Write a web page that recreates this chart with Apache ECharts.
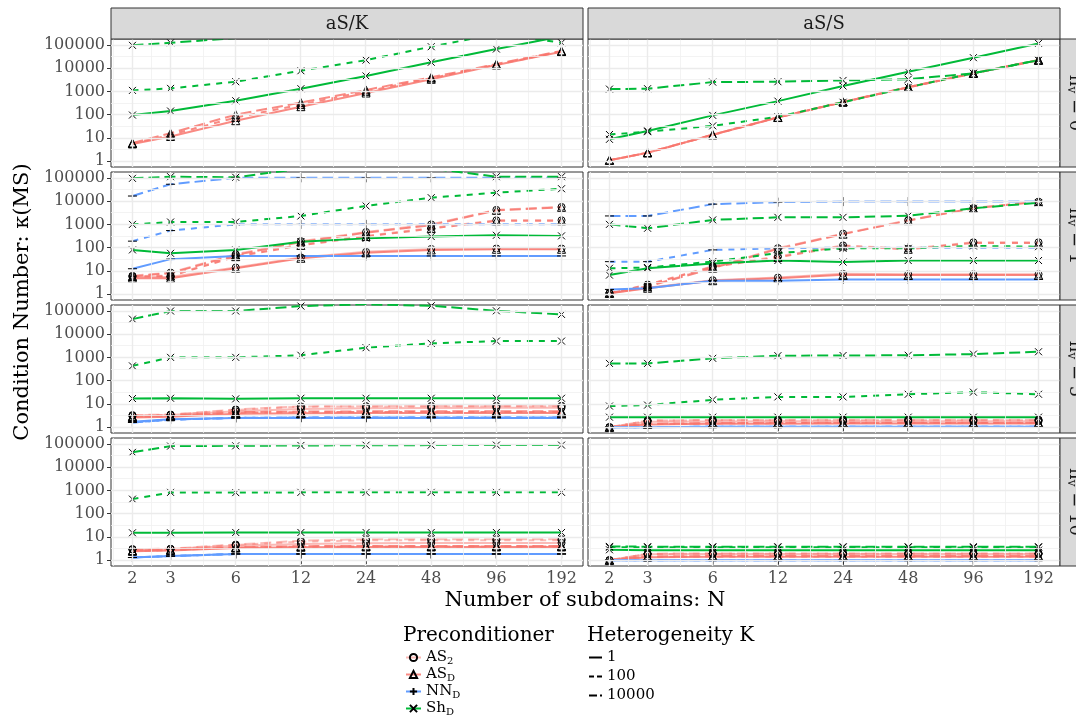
<!DOCTYPE html>
<html><head><meta charset="utf-8">
<script src="https://cdn.jsdelivr.net/npm/echarts@6/dist/echarts.min.js"></script>
<style>html,body{margin:0;padding:0;background:#fff}#c{width:1076px;height:715px}</style>
</head><body><div id="c"></div>
<script>
// ---------------- data ----------------
const N = [2, 3, 6, 12, 24, 48, 96, 192];
const colTitles = ['aS/K', 'aS/S'];
const rowValues = ['0', '1', '5', '10'];
const yTicks = [1, 10, 100, 1000, 10000, 100000];
const preconds = ['AS2', 'ASD', 'NND', 'ShD'];
const hetero = ['1', '100', '10000'];

// panel 1: aS/K, nv = 0
const p1_ShD_K1 = [96, 143, 395, 1300, 4600, 17800, 66000, 230000];
const p1_ShD_K100 = [1100, 1340, 2600, 7700, 22000, 83000, 295000, 123000];
const p1_ShD_K10000 = [95000, 123000, 195000, 400000, 700000, 1200000, 2000000, 3000000];
const p1_ASD_K1 = [5.5, 11.5, 55, 220, 850, 3300, 13500, 50000];
const p1_ASD_K100 = [5.8, 13.5, 75, 270, 1000, 3700, 14200, 52000];
const p1_ASD_K10000 = [6.0, 16, 100, 330, 1150, 4000, 15000, 55000];
// panel 2: aS/S, nv = 0
const p2_ShD_K1 = [8.7, 20, 93, 380, 1700, 7000, 28000, 115000];
const p2_ShD_K100 = [14, 18.5, 33, 81, 340, 1500, 6000, 22000];
const p2_ShD_K10000 = [1250, 1300, 2500, 2600, 2950, 3300, 6000, 22000];
const p2_ASD_K1 = [1.1, 2.3, 13.7, 76, 350, 1500, 6000, 22000];
const p2_ASD_K100 = [1.1, 2.3, 13.5, 75, 345, 1480, 5900, 21500];
const p2_ASD_K10000 = [1.1, 2.3, 13.9, 77, 355, 1520, 6100, 22500];
// panel 3: aS/K, nv = 1
const p3_AS2_K1 = [5.5, 5.5, 14, 38, 66, 88, 92, 92];
const p3_AS2_K100 = [6.0, 6.3, 44, 135, 320, 700, 1500, 1500];
const p3_AS2_K10000 = [6.2, 8.5, 52, 190, 470, 1000, 4200, 5600];
const p3_ASD_K1 = [4.8, 4.8, 13, 35, 60, 80, 85, 85];
const p3_ASD_K100 = [5.6, 6.0, 41, 125, 300, 660, 1420, 1420];
const p3_ASD_K10000 = [5.8, 8.0, 48, 175, 440, 930, 4000, 5400];
const p3_NND_K1 = [12.4, 32, 44, 44, 44, 44, 44, 44];
const p3_NND_K100 = [190, 540, 1000, 1000, 1000, 1000, 1000, 1000];
const p3_NND_K10000 = [16500, 53000, 100000, 100000, 100000, 100000, 100000, 100000];
const p3_ShD_K1 = [80, 57, 80, 180, 250, 300, 340, 320];
const p3_ShD_K100 = [1000, 1260, 1260, 2300, 6200, 14000, 23000, 34000];
const p3_ShD_K10000 = [95000, 112000, 105000, 250000, 300000, 250000, 112000, 112000];
// panel 4: aS/S, nv = 1
const p4_AS2_K1 = [1.1, 1.9, 4.0, 5.2, 7.5, 7.2, 7.2, 7.2];
const p4_AS2_K100 = [1.1, 2.6, 16, 42, 125, 90, 170, 170];
const p4_AS2_K10000 = [1.1, 2.2, 14, 95, 400, 1500, 5000, 9500];
const p4_ASD_K1 = [1.1, 1.8, 3.8, 4.8, 6.8, 6.6, 6.6, 6.6];
const p4_ASD_K100 = [1.1, 2.5, 15, 38, 118, 85, 160, 160];
const p4_ASD_K10000 = [1.1, 2.1, 13, 88, 380, 1450, 4900, 9500];
const p4_NND_K1 = [1.6, 1.8, 3.8, 3.8, 4.3, 4.3, 4.3, 4.3];
const p4_NND_K100 = [25, 25, 80, 93, 100, 100, 100, 100];
const p4_NND_K10000 = [2300, 2300, 7400, 9000, 9500, 9500, 9500, 9500];
const p4_ShD_K1 = [6.6, 13, 21, 28, 24, 28, 28, 28];
const p4_ShD_K100 = [13, 14, 25, 58, 93, 93, 118, 110];
const p4_ShD_K10000 = [1000, 680, 1550, 2000, 2000, 2350, 4900, 8500];
// panel 5: aS/K, nv = 5
const p5_AS2_K1 = [3.0, 3.3, 4.8, 6.0, 6.5, 6.7, 6.8, 6.8];
const p5_AS2_K100 = [3.2, 3.4, 5.5, 7.6, 7.8, 7.8, 8.0, 8.0];
const p5_AS2_K10000 = [3.3, 3.5, 5.8, 7.8, 8.0, 8.2, 8.2, 8.3];
const p5_ASD_K1 = [2.6, 2.8, 3.8, 4.0, 4.1, 4.1, 4.1, 4.1];
const p5_ASD_K100 = [2.8, 3.0, 4.2, 4.4, 4.5, 4.5, 4.5, 4.5];
const p5_ASD_K10000 = [2.9, 3.1, 4.4, 4.7, 4.8, 4.8, 4.8, 4.8];
const p5_NND_K1 = [1.7, 2.2, 2.5, 2.5, 2.5, 2.5, 2.5, 2.5];
const p5_NND_K100 = [1.6, 2.1, 2.5, 2.6, 2.6, 2.6, 2.6, 2.6];
const p5_NND_K10000 = [1.6, 2.1, 2.5, 2.6, 2.6, 2.6, 2.6, 2.6];
const p5_ShD_K1 = [17, 17.5, 16.5, 17.5, 17.5, 17.5, 17.5, 17.5];
const p5_ShD_K100 = [430, 1000, 1000, 1230, 2600, 4000, 5000, 5000];
const p5_ShD_K10000 = [44000, 98000, 98000, 160000, 190000, 165000, 100000, 70000];
// panel 6: aS/S, nv = 5
const p6_AS2_K1 = [1.0, 1.7, 1.75, 1.8, 1.8, 1.8, 1.8, 1.8];
const p6_AS2_K100 = [1.0, 1.9, 2.0, 2.0, 2.0, 2.0, 2.0, 2.0];
const p6_AS2_K10000 = [1.0, 1.9, 2.05, 2.05, 2.1, 2.1, 2.1, 2.1];
const p6_ASD_K1 = [1.0, 1.3, 1.4, 1.4, 1.45, 1.45, 1.45, 1.45];
const p6_ASD_K100 = [1.0, 1.35, 1.45, 1.5, 1.5, 1.5, 1.5, 1.5];
const p6_ASD_K10000 = [1.0, 1.4, 1.5, 1.55, 1.55, 1.55, 1.55, 1.55];
const p6_NND_K1 = [1.0, 1.0, 1.05, 1.05, 1.05, 1.05, 1.05, 1.05];
const p6_NND_K100 = [1.0, 1.0, 1.05, 1.05, 1.05, 1.05, 1.05, 1.05];
const p6_NND_K10000 = [1.0, 1.0, 1.05, 1.05, 1.05, 1.05, 1.05, 1.05];
const p6_ShD_K1 = [2.7, 2.7, 2.7, 2.7, 2.7, 2.7, 2.7, 2.7];
const p6_ShD_K100 = [8.1, 8.9, 15, 20, 20, 26, 32, 26];
const p6_ShD_K10000 = [550, 550, 910, 1180, 1200, 1230, 1380, 1740];
// panel 7: aS/K, nv = 10
const p7_AS2_K1 = [2.9, 3.0, 4.2, 5.0, 5.3, 5.5, 5.5, 5.5];
const p7_AS2_K100 = [2.9, 3.0, 4.5, 6.2, 7.2, 7.2, 7.2, 7.2];
const p7_AS2_K10000 = [3.0, 3.1, 4.7, 6.8, 8.0, 8.0, 8.0, 8.0];
const p7_ASD_K1 = [2.4, 2.6, 3.3, 3.6, 3.7, 3.7, 3.7, 3.7];
const p7_ASD_K100 = [2.5, 2.7, 3.5, 3.8, 3.9, 3.9, 3.9, 3.9];
const p7_ASD_K10000 = [2.6, 2.8, 3.6, 4.0, 4.1, 4.1, 4.1, 4.1];
const p7_NND_K1 = [1.3, 1.5, 1.85, 1.85, 1.85, 1.85, 1.85, 1.85];
const p7_NND_K100 = [1.3, 1.5, 1.85, 1.85, 1.85, 1.85, 1.85, 1.85];
const p7_NND_K10000 = [1.3, 1.5, 1.85, 1.85, 1.85, 1.85, 1.85, 1.85];
const p7_ShD_K1 = [15, 15, 15.5, 15.5, 15.5, 15.5, 15.5, 15.5];
const p7_ShD_K100 = [420, 820, 800, 820, 820, 820, 820, 820];
const p7_ShD_K10000 = [43000, 80000, 82000, 85000, 87000, 88000, 88000, 88000];
// panel 8: aS/S, nv = 10
const p8_AS2_K1 = [1.0, 1.8, 1.85, 1.85, 1.85, 1.85, 1.85, 1.85];
const p8_AS2_K100 = [1.0, 1.85, 1.9, 1.9, 1.9, 1.9, 1.9, 1.9];
const p8_AS2_K10000 = [1.0, 1.9, 1.95, 1.95, 1.95, 1.95, 1.95, 1.95];
const p8_ASD_K1 = [1.0, 1.35, 1.4, 1.4, 1.4, 1.4, 1.4, 1.4];
const p8_ASD_K100 = [1.0, 1.4, 1.45, 1.45, 1.45, 1.45, 1.45, 1.45];
const p8_ASD_K10000 = [1.0, 1.45, 1.5, 1.5, 1.5, 1.5, 1.5, 1.5];
const p8_NND_K1 = [1.0, 1.0, 1.0, 1.0, 1.0, 1.0, 1.0, 1.0];
const p8_NND_K100 = [1.0, 1.0, 1.0, 1.0, 1.0, 1.0, 1.0, 1.0];
const p8_NND_K10000 = [1.0, 1.0, 1.0, 1.0, 1.0, 1.0, 1.0, 1.0];
const p8_ShD_K1 = [2.8, 2.7, 2.7, 2.7, 2.7, 2.7, 2.7, 2.7];
const p8_ShD_K100 = [3.6, 3.6, 3.6, 3.6, 3.6, 3.6, 3.5, 3.6];
const p8_ShD_K10000 = [3.9, 3.8, 3.8, 3.8, 3.8, 3.8, 3.8, 3.8];

const panels = [
  {row: 0, col: 0, lines: [['ASD','1',p1_ASD_K1],['ASD','100',p1_ASD_K100],['ASD','10000',p1_ASD_K10000],
    ['ShD','1',p1_ShD_K1],['ShD','100',p1_ShD_K100],['ShD','10000',p1_ShD_K10000]]},
  {row: 0, col: 1, lines: [['ASD','1',p2_ASD_K1],['ASD','100',p2_ASD_K100],['ASD','10000',p2_ASD_K10000],
    ['ShD','1',p2_ShD_K1],['ShD','100',p2_ShD_K100],['ShD','10000',p2_ShD_K10000]]},
  {row: 1, col: 0, lines: [['AS2','1',p3_AS2_K1],['AS2','100',p3_AS2_K100],['AS2','10000',p3_AS2_K10000],
    ['ASD','1',p3_ASD_K1],['ASD','100',p3_ASD_K100],['ASD','10000',p3_ASD_K10000],
    ['NND','1',p3_NND_K1],['NND','100',p3_NND_K100],['NND','10000',p3_NND_K10000],
    ['ShD','1',p3_ShD_K1],['ShD','100',p3_ShD_K100],['ShD','10000',p3_ShD_K10000]]},
  {row: 1, col: 1, lines: [['AS2','1',p4_AS2_K1],['AS2','100',p4_AS2_K100],['AS2','10000',p4_AS2_K10000],
    ['ASD','1',p4_ASD_K1],['ASD','100',p4_ASD_K100],['ASD','10000',p4_ASD_K10000],
    ['NND','1',p4_NND_K1],['NND','100',p4_NND_K100],['NND','10000',p4_NND_K10000],
    ['ShD','1',p4_ShD_K1],['ShD','100',p4_ShD_K100],['ShD','10000',p4_ShD_K10000]]},
  {row: 2, col: 0, lines: [['AS2','1',p5_AS2_K1],['AS2','100',p5_AS2_K100],['AS2','10000',p5_AS2_K10000],
    ['ASD','1',p5_ASD_K1],['ASD','100',p5_ASD_K100],['ASD','10000',p5_ASD_K10000],
    ['NND','1',p5_NND_K1],['NND','100',p5_NND_K100],['NND','10000',p5_NND_K10000],
    ['ShD','1',p5_ShD_K1],['ShD','100',p5_ShD_K100],['ShD','10000',p5_ShD_K10000]]},
  {row: 2, col: 1, lines: [['AS2','1',p6_AS2_K1],['AS2','100',p6_AS2_K100],['AS2','10000',p6_AS2_K10000],
    ['ASD','1',p6_ASD_K1],['ASD','100',p6_ASD_K100],['ASD','10000',p6_ASD_K10000],
    ['NND','1',p6_NND_K1],['NND','100',p6_NND_K100],['NND','10000',p6_NND_K10000],
    ['ShD','1',p6_ShD_K1],['ShD','100',p6_ShD_K100],['ShD','10000',p6_ShD_K10000]]},
  {row: 3, col: 0, lines: [['AS2','1',p7_AS2_K1],['AS2','100',p7_AS2_K100],['AS2','10000',p7_AS2_K10000],
    ['ASD','1',p7_ASD_K1],['ASD','100',p7_ASD_K100],['ASD','10000',p7_ASD_K10000],
    ['NND','1',p7_NND_K1],['NND','100',p7_NND_K100],['NND','10000',p7_NND_K10000],
    ['ShD','1',p7_ShD_K1],['ShD','100',p7_ShD_K100],['ShD','10000',p7_ShD_K10000]]},
  {row: 3, col: 1, lines: [['AS2','1',p8_AS2_K1],['AS2','100',p8_AS2_K100],['AS2','10000',p8_AS2_K10000],
    ['ASD','1',p8_ASD_K1],['ASD','100',p8_ASD_K100],['ASD','10000',p8_ASD_K10000],
    ['NND','1',p8_NND_K1],['NND','100',p8_NND_K100],['NND','10000',p8_NND_K10000],
    ['ShD','1',p8_ShD_K1],['ShD','100',p8_ShD_K100],['ShD','10000',p8_ShD_K10000]]}
];

// ---------------- styling / layout ----------------
const FONT = 'DejaVu Serif';
const STYLE = {
  AS2: {color: 'rgba(248,118,109,0.5)', symbol: 'circle', size: 7},
  ASD: {color: 'rgba(248,118,109,0.85)', symbol: 'triangle', size: 8},
  NND: {color: '#619CFF', symbol: 'path://M5,0L5,10M0,5L10,5', size: 9},
  ShD: {color: '#00BA38', symbol: 'path://M0,0L10,10M10,0L0,10', size: 7}
};
const DASH = {'1': 'solid', '100': [6, 6], '10000': [11, 5]};
const KEY_ICON = {'1': 'path://M0,0H13V2H0Z', '100': 'path://M0,0H5V2H0ZM8,0H13V2H8Z', '10000': 'path://M0,0H8V2H0ZM11,0H13V2H11Z'};
const LABEL = {AS2: '{m|AS}{s|2}', ASD: '{m|AS}{s|D}', NND: '{m|NN}{s|D}', ShD: '{m|Sh}{s|D}'};
const colLeft = [111, 588], panelW = 472;
const rowTop = [39, 172, 305, 438], panelH = 128;

const xVals = N.map(v => Math.log2(v));
const xLo = xVals[0], xHi = xVals[xVals.length - 1];
const xPad = 0.05 * (xHi - xLo);
const yVals = yTicks.map(v => Math.log10(v));
const yLo = yVals[0], yHi = yVals[yVals.length - 1];
const yPad = 0.05 * (yHi - yLo);

// grid lines (major + minor) via markLine
const gridLineData = [];
const major = {color: '#EBEBEB', width: 1.4, type: 'solid'};
const minor = {color: '#F0F0F0', width: 0.8, type: 'solid'};
const xExt = [2 * xVals[0] - xVals[1]].concat(xVals);
for (let i = 1; i < xExt.length; i++) {
  const m = (xExt[i - 1] + xExt[i]) / 2;
  if (m > xLo - xPad) gridLineData.push({xAxis: m, lineStyle: minor});
}
for (let i = 1; i < yVals.length; i++) gridLineData.push({yAxis: (yVals[i - 1] + yVals[i]) / 2, lineStyle: minor});
xVals.forEach(v => gridLineData.push({xAxis: v, lineStyle: major}));
yVals.forEach(v => gridLineData.push({yAxis: v, lineStyle: major}));

const grids = [], xAxes = [], yAxes = [], series = [];
panels.forEach((p, g) => {
  grids.push({left: colLeft[p.col], top: rowTop[p.row], width: panelW, height: panelH,
    show: true, backgroundColor: '#fff', borderColor: '#333', borderWidth: 1, containLabel: false, outerBoundsMode: 'none'});
  const bottom = p.row === 3, left = p.col === 0;
  xAxes.push({type: 'value', gridIndex: g, min: xLo - xPad, max: xHi + xPad,
    axisLine: {show: false}, splitLine: {show: false},
    axisTick: {show: bottom, customValues: xVals, length: 4, lineStyle: {color: '#333'}},
    axisLabel: {show: bottom, customValues: xVals, margin: 5, color: '#4D4D4D', fontSize: 16, fontFamily: FONT,
      formatter: v => String(Math.round(Math.pow(2, v)))}});
  yAxes.push({type: 'value', gridIndex: g, min: yLo - yPad, max: yHi + yPad,
    axisLine: {show: false}, splitLine: {show: false},
    axisTick: {show: left, customValues: yVals, length: 4, lineStyle: {color: '#333'}},
    axisLabel: {show: left, customValues: yVals, margin: 6, color: '#4D4D4D', fontSize: 16, fontFamily: FONT,
      formatter: v => String(Math.round(Math.pow(10, v)))}});
  series.push({type: 'line', name: '_grid' + g, xAxisIndex: g, yAxisIndex: g, data: [], silent: true, z: 1,
    markLine: {silent: true, symbol: ['none', 'none'], label: {show: false}, animation: false,
      emphasis: {disabled: true}, data: gridLineData}});
  p.lines.forEach(([pre, K, arr]) => {
    const st = STYLE[pre];
    series.push({type: 'line', name: pre, xAxisIndex: g, yAxisIndex: g, z: 3, clip: true,
      data: arr.map((v, i) => [xVals[i], Math.log10(v)]),
      symbol: st.symbol, symbolSize: st.size, showSymbol: true, showAllSymbol: true,
      lineStyle: {color: st.color, width: 2, type: DASH[K]},
      itemStyle: {color: 'rgba(0,0,0,0)', borderColor: '#000', borderWidth: 1},
      emphasis: {disabled: true}, animation: false});
  });
});
// key-only series for the heterogeneity legend
hetero.forEach(K => series.push({type: 'line', name: K, xAxisIndex: 0, yAxisIndex: 0, data: [], symbol: 'none',
  lineStyle: {color: '#000', width: 2, type: DASH[K]}, itemStyle: {color: '#000'}}));

const graphic = [];
colTitles.forEach((t, c) => {
  graphic.push({type: 'rect', shape: {x: colLeft[c], y: 8, width: panelW, height: 31},
    style: {fill: '#D9D9D9', stroke: '#333', lineWidth: 1}, z: 10});
  graphic.push({type: 'text', x: colLeft[c] + panelW / 2, y: 24, z: 11,
    style: {text: t, fill: '#1A1A1A', font: '18px "DejaVu Serif"', align: 'center', verticalAlign: 'middle'}});
});
rowValues.forEach((v, r) => {
  graphic.push({type: 'rect', shape: {x: colLeft[1] + panelW, y: rowTop[r], width: 30, height: panelH},
    style: {fill: '#D9D9D9', stroke: '#333', lineWidth: 1}, z: 10});
  graphic.push({type: 'text', x: 1075, y: rowTop[r] + panelH / 2, rotation: -Math.PI / 2, z: 11,
    style: {text: '{m|n}{s|v}{m| = ' + v + '}', fill: '#1A1A1A', align: 'center', verticalAlign: 'middle',
      rich: {m: {fontSize: 18, fontFamily: FONT, fill: '#1A1A1A'}, s: {fontSize: 12, fontFamily: FONT, fill: '#1A1A1A', padding: [8, 0, 0, 0]}}}});
});
graphic.push({type: 'text', x: 23, y: 302, rotation: Math.PI / 2, z: 11,
  style: {text: 'Condition Number: κ(MS)', fill: '#000', font: '21px "DejaVu Serif"', align: 'center', verticalAlign: 'middle'}});
graphic.push({type: 'text', x: 585, y: 601, z: 11,
  style: {text: 'Number of subdomains: N', fill: '#000', font: '21px "DejaVu Serif"', align: 'center', verticalAlign: 'middle'}});

const legendText = {fontFamily: FONT, fontSize: 15, color: '#000', lineHeight: 14,
  rich: {m: {fontFamily: FONT, fontSize: 15, lineHeight: 14}, s: {fontFamily: FONT, fontSize: 10, lineHeight: 14, padding: [7, 0, 0, 0]}}};

const option = {
  animation: false,
  backgroundColor: '#fff',
  title: [
    {text: 'Preconditioner', left: 403, top: 626, padding: 0, textStyle: {fontFamily: FONT, fontSize: 20, fontWeight: 'normal', color: '#000'}},
    {text: 'Heterogeneity K', left: 587, top: 626, padding: 0, textStyle: {fontFamily: FONT, fontSize: 20, fontWeight: 'normal', color: '#000'}}
  ],
  legend: [
    {data: preconds, orient: 'vertical', left: 405, top: 649, height: 140, padding: 0, itemWidth: 15, itemHeight: 9, itemGap: 0,
      selectedMode: false, textStyle: legendText, formatter: n => LABEL[n]},
    {data: hetero.map(K => ({name: K, icon: KEY_ICON[K], itemStyle: {color: '#000'}})), orient: 'vertical', left: 589, top: 650, height: 140,
      padding: 0, itemWidth: 13, itemHeight: 2, itemGap: 4, selectedMode: false, textStyle: legendText}
  ],
  grid: grids, xAxis: xAxes, yAxis: yAxes, series: series, graphic: graphic
};
const chart = echarts.init(document.getElementById('c'), null, {renderer: 'canvas'});
chart.setOption(option);
</script></body></html>
